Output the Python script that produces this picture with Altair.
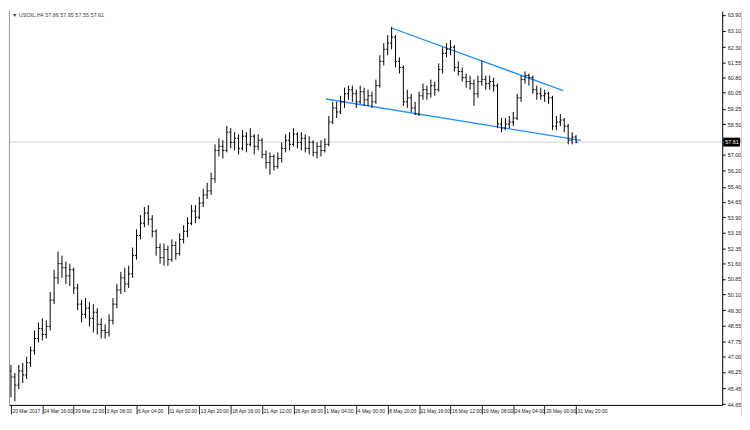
import altair as alt
import pandas as pd

# ---- data (H4 bars) ----
opens = [46.3, 46.0, 45.6, 46.3, 46.1, 46.7, 47.3, 47.9, 48.4, 48.1,
         48.5, 49.8, 50.9, 51.6, 51.4, 51.0, 51.3, 50.4, 49.6, 49.1,
         49.4, 48.9, 49.2, 48.6, 48.3, 48.2, 48.8, 49.6, 50.3, 50.9,
         50.6, 51.1, 52.0, 53.0, 53.6, 54.1, 53.8, 53.2, 52.4, 51.9,
         52.3, 51.8, 52.5, 52.1, 52.8, 53.2, 53.6, 54.2, 53.9, 54.6,
         55.0, 55.2, 55.8, 57.2, 57.4, 57.2, 58.1, 57.6, 57.8, 57.3,
         57.9, 57.5, 57.9, 57.4, 57.7, 57.0, 56.6, 56.9, 56.4, 56.8,
         57.3, 57.7, 57.5, 58.0, 57.6, 57.8, 57.3, 57.6, 57.1, 57.4,
         57.2, 57.5, 58.6, 59.3, 59.1, 59.6, 60.0, 60.2, 60.0, 59.6,
         60.1, 59.7, 59.9, 59.6, 60.4, 61.6, 62.2, 62.5, 62.8, 61.6,
         61.3, 59.6, 59.8, 59.3, 59.0, 59.9, 60.2, 60.0, 60.4, 60.2,
         61.2, 62.0, 62.2, 62.3, 61.3, 61.1, 60.8, 60.6, 60.5, 60.0,
         60.6, 60.7, 60.5, 60.6, 60.4, 58.5, 58.3, 58.5, 58.6, 58.8,
         59.8, 60.7, 60.9, 60.8, 60.2, 60.0, 59.9, 60.0, 59.8, 58.4,
         58.6, 58.7, 58.4, 57.7, 57.86]
highs = [46.6, 46.2, 46.6, 46.7, 47.0, 47.5, 48.3, 48.7, 48.9, 48.8,
         50.2, 51.3, 52.2, 52.0, 51.7, 51.6, 51.4, 50.6, 49.8, 49.9,
         49.7, 49.6, 49.4, 48.9, 48.6, 49.1, 49.9, 50.6, 51.2, 51.4,
         51.5, 52.4, 53.3, 54.0, 54.4, 54.5, 54.0, 53.3, 52.6, 52.6,
         52.5, 52.8, 52.7, 53.1, 53.5, 53.9, 54.5, 54.5, 54.9, 55.3,
         55.6, 56.1, 57.5, 57.8, 57.7, 58.4, 58.3, 58.1, 58.0, 58.2,
         58.1, 58.3, 58.0, 58.0, 57.8, 57.2, 57.1, 57.0, 57.1, 57.6,
         58.0, 58.1, 58.3, 58.1, 58.1, 58.0, 57.9, 57.7, 57.6, 57.7,
         57.8, 58.9, 59.6, 59.6, 59.9, 60.3, 60.4, 60.4, 60.2, 60.4,
         60.3, 60.2, 60.1, 60.7, 61.9, 62.5, 62.9, 63.3, 62.9, 61.8,
         61.4, 60.2, 60.0, 59.6, 60.1, 60.5, 60.4, 60.7, 60.6, 61.5,
         62.3, 62.5, 62.65, 62.4, 61.6, 61.3, 61.0, 60.9, 60.7, 60.9,
         61.65, 60.9, 60.9, 60.8, 60.5, 58.8, 58.8, 58.9, 59.1, 60.0,
         60.9, 61.1, 61.0, 60.9, 60.4, 60.3, 60.2, 60.1, 59.9, 58.9,
         59.0, 58.8, 58.5, 58.1, 57.95]
lows = [45.0, 44.8, 45.4, 45.7, 45.9, 46.5, 47.1, 47.7, 47.8, 47.9,
        48.3, 49.6, 50.6, 50.9, 50.6, 50.5, 50.1, 49.3, 48.7, 48.9,
        48.5, 48.2, 48.1, 47.9, 47.9, 48.0, 48.6, 49.4, 50.1, 50.2,
        50.4, 50.9, 51.8, 52.8, 53.4, 53.5, 52.9, 52.0, 51.6, 51.5,
        51.5, 51.7, 51.8, 52.0, 52.6, 52.9, 53.5, 53.6, 53.8, 54.4,
        54.8, 55.0, 55.6, 56.9, 56.8, 57.1, 57.3, 57.2, 57.0, 57.2,
        57.1, 57.4, 57.0, 57.2, 56.8, 56.3, 56.0, 56.2, 56.3, 56.6,
        57.1, 57.2, 57.4, 57.3, 57.2, 57.1, 57.0, 56.9, 56.8, 56.9,
        57.1, 57.4, 58.5, 58.8, 59.0, 59.3, 59.7, 59.6, 59.3, 59.5,
        59.4, 59.4, 59.3, 59.5, 60.3, 61.4, 61.9, 62.2, 61.3, 61.0,
        59.4, 59.3, 59.1, 58.95, 58.9, 59.7, 59.7, 59.8, 59.9, 60.1,
        61.0, 61.8, 61.9, 61.1, 60.9, 60.6, 60.3, 60.2, 59.4, 59.8,
        60.4, 60.2, 60.2, 60.1, 58.3, 58.1, 58.2, 58.3, 58.4, 58.7,
        59.6, 60.5, 60.4, 60.0, 59.7, 59.7, 59.6, 59.5, 58.2, 58.2,
        58.4, 58.1, 57.5, 57.5, 57.55]
closes = [46.0, 45.6, 46.3, 46.1, 46.7, 47.3, 47.9, 48.4, 48.1, 48.5,
          49.8, 50.9, 51.6, 51.4, 51.0, 51.3, 50.4, 49.6, 49.1, 49.4,
          48.9, 49.2, 48.6, 48.3, 48.2, 48.8, 49.6, 50.3, 50.9, 50.6,
          51.1, 52.0, 53.0, 53.6, 54.1, 53.8, 53.2, 52.4, 51.9, 52.3,
          51.8, 52.5, 52.1, 52.8, 53.2, 53.6, 54.2, 53.9, 54.6, 55.0,
          55.2, 55.8, 57.2, 57.4, 57.2, 58.1, 57.6, 57.8, 57.3, 57.9,
          57.5, 57.9, 57.4, 57.7, 57.0, 56.6, 56.9, 56.4, 56.8, 57.3,
          57.7, 57.5, 58.0, 57.6, 57.8, 57.3, 57.6, 57.1, 57.4, 57.2,
          57.5, 58.6, 59.3, 59.1, 59.6, 60.0, 60.2, 60.0, 59.6, 60.1,
          59.7, 59.9, 59.6, 60.4, 61.6, 62.2, 62.5, 62.8, 61.6, 61.3,
          59.6, 59.8, 59.3, 59.0, 59.9, 60.2, 60.0, 60.4, 60.2, 61.2,
          62.0, 62.2, 62.3, 61.3, 61.1, 60.8, 60.6, 60.5, 60.0, 60.6,
          60.7, 60.5, 60.6, 60.4, 58.5, 58.3, 58.5, 58.6, 58.8, 59.8,
          60.7, 60.9, 60.8, 60.2, 60.0, 59.9, 60.0, 59.8, 58.4, 58.6,
          58.7, 58.4, 57.7, 57.86, 57.61]

time_labels = ["20 Mar 2017", "24 Mar 16:00", "29 Mar 12:00", "3 Apr 08:00",
               "6 Apr 04:00", "11 Apr 00:00", "13 Apr 20:00", "18 Apr 16:00",
               "21 Apr 12:00", "26 Apr 08:00", "1 May 04:00", "4 May 00:00",
               "8 May 20:00", "11 May 16:00", "16 May 12:00", "19 May 08:00",
               "24 May 04:00", "29 May 00:00", "31 May 20:00"]
label_step = 8
price_ticks = [63.90, 63.10, 62.30, 61.55, 60.80, 60.05, 59.25, 58.50, 57.70,
               57.00, 56.20, 55.40, 54.65, 53.90, 53.15, 52.35, 51.60, 50.85,
               50.10, 49.30, 48.55, 47.75, 47.00, 46.25, 45.45, 44.65]
last_price = 57.61
header = "\u25bc USOIL,H4  57.86 57.95 57.55 57.61"

# trend lines (bar index, price)
trend_line = ["upper", "upper", "lower", "lower"]
trend_idx = [97, 140.75, 80.25, 145.25]
trend_px = [63.25, 60.15, 59.74, 57.69]

df = pd.DataFrame({"i": list(range(len(closes))), "o": opens, "h": highs,
                   "l": lows, "c": closes})
df_tl = pd.DataFrame({"line": trend_line, "i": trend_idx, "p": trend_px})
df_last = pd.DataFrame({"p": [last_price], "lbl": [f"{last_price:.2f}"]})
df_head = pd.DataFrame({"t": [header]})

W, H = 721, 398
xs = alt.Scale(domain=[-0.5, 181.25], nice=False, zero=False)
ys = alt.Scale(domain=[44.62, 64.08], nice=False, zero=False)

label_expr = "[" + ",".join("'%s'" % s for s in time_labels) + \
    "][round(datum.value / %d)]" % label_step

x_axis = alt.Axis(values=[k * label_step for k in range(len(time_labels))],
                  labelExpr=label_expr, title=None, orient="bottom",
                  tickSize=9, labelBaseline="bottom", labelAlign="left",
                  labelPadding=0, labelOffset=1, labelFontSize=5,
                  labelFont="Liberation Sans", labelColor="#222",
                  domainColor="black", tickColor="#222", grid=False,
                  labelOverlap=False, labelFlush=False)
y_axis = alt.Axis(values=price_ticks, format=".2f", orient="right", title=None,
                  tickSize=3, labelPadding=2, labelFontSize=5.5,
                  labelFont="Liberation Sans", labelColor="#222",
                  domainColor="black", tickColor="black", grid=False,
                  labelOverlap=False, labelFlush=False)

X = alt.X("i:Q", scale=xs, axis=x_axis)

base = alt.Chart(df)
hl = base.mark_rule(color="black", strokeWidth=1).encode(
    x=X, y=alt.Y("l:Q", scale=ys, axis=y_axis), y2="h:Q")
op = base.mark_rule(color="black", strokeWidth=1, xOffset=-1.5, x2Offset=0).encode(
    x=X, x2="i:Q", y=alt.Y("o:Q", scale=ys, axis=y_axis))
cl = base.mark_rule(color="black", strokeWidth=1, xOffset=0, x2Offset=1.5).encode(
    x=X, x2="i:Q", y=alt.Y("c:Q", scale=ys, axis=y_axis))

price_line = alt.Chart(df_last).mark_rule(color="#d0d0d0", strokeWidth=1).encode(
    y=alt.Y("p:Q", scale=ys, axis=y_axis))

trend = alt.Chart(df_tl).mark_line(color="#1e90ff", strokeWidth=1.3).encode(
    x=X, y=alt.Y("p:Q", scale=ys, axis=y_axis), detail="line:N")

box = alt.Chart(df_last).mark_point(
    shape="M-1,-0.53L1,-0.53L1,0.53L-1,0.53Z", size=289, filled=True,
    color="black", opacity=1).encode(
    x=alt.value(W + 9.5), y=alt.Y("p:Q", scale=ys, axis=y_axis))
box_txt = alt.Chart(df_last).mark_text(
    color="white", fontSize=5.5, font="Liberation Sans", align="left",
    baseline="middle").encode(
    x=alt.value(W + 3), y=alt.Y("p:Q", scale=ys, axis=y_axis), text="lbl:N")

head = alt.Chart(df_head).mark_text(
    align="left", baseline="top", fontSize=5.5, font="Liberation Sans",
    color="#444").encode(x=alt.value(3), y=alt.value(2), text="t:N")

left_edge = alt.Chart(df_head).mark_rule(color="#999").encode(
    x=alt.value(0.5), y=alt.value(0), y2=alt.value(H))
right_edge = alt.Chart(df_head).mark_rule(color="#d0d0d0").encode(
    x=alt.value(W + 19.5), y=alt.value(0), y2=alt.value(H + 10))

chart = alt.layer(price_line, trend, hl, op, cl, box, box_txt, head,
                  left_edge, right_edge).properties(
    width=W, height=H,
    padding={"left": 0, "top": 0, "right": 0, "bottom": 0},
    background="white",
).configure_view(stroke=None)

chart.save("out.html", embed_options={"renderer": "svg", "actions": False})
